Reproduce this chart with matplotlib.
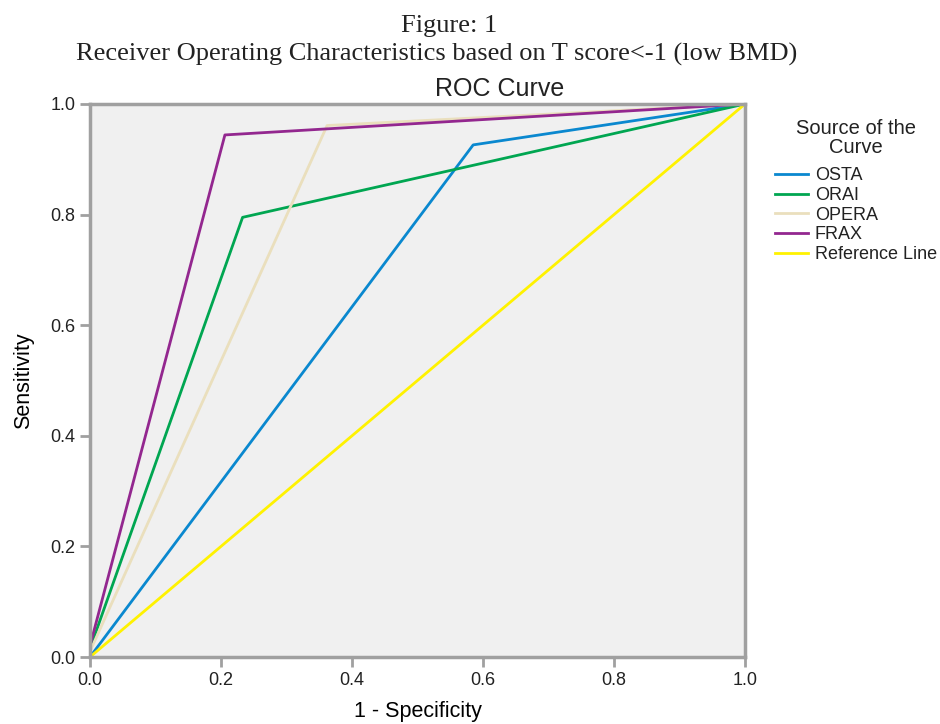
import matplotlib
matplotlib.use("Agg")
import matplotlib.pyplot as plt

# ROC points (1 - specificity, sensitivity)
osta_x = [0.0, 0.585, 1.0]
osta_y = [0.0, 0.926, 1.0]
orai_x = [0.0, 0.233, 1.0]
orai_y = [0.015, 0.795, 1.0]
opera_x = [0.0, 0.362, 1.0]
opera_y = [0.01, 0.961, 1.0]
frax_x = [0.0, 0.206, 1.0]
frax_y = [0.02, 0.944, 1.0]
ref_x = [0.0, 1.0]
ref_y = [0.0, 1.0]

ticks = [0.0, 0.2, 0.4, 0.6, 0.8, 1.0]

fig = plt.figure(figsize=(9.4, 7.24), dpi=100)
ax = fig.add_axes([0.0957, 0.0925, 0.6969, 0.7639])
ax.set_facecolor("#f0f0f0")

ax.plot(osta_x, osta_y, color="#0a88cf", lw=2, label="OSTA")
ax.plot(orai_x, orai_y, color="#00a651", lw=2, label="ORAI")
ax.plot(opera_x, opera_y, color="#eadfbd", lw=2, label="OPERA")
ax.plot(frax_x, frax_y, color="#93278f", lw=2, label="FRAX")
ax.plot(ref_x, ref_y, color="#fff200", lw=2, label="Reference Line")

ax.set_xlim(0, 1)
ax.set_ylim(0, 1)
ax.set_xticks(ticks)
ax.set_yticks(ticks)
ax.set_xticklabels([f"{t:.1f}" for t in ticks])
ax.set_yticklabels([f"{t:.1f}" for t in ticks])

for s in ax.spines.values():
    s.set_color("#a0a0a0")
    s.set_linewidth(2.5)
ax.tick_params(direction="out", length=7, width=2, color="#a0a0a0",
               labelsize=13, labelcolor="#222222")
for lab in ax.get_xticklabels() + ax.get_yticklabels():
    lab.set_family("Liberation Sans")

ax.set_xlabel("1 - Specificity", fontsize=15.5, family="Liberation Sans", labelpad=9)
ax.set_ylabel("Sensitivity", fontsize=15.5, family="Liberation Sans", labelpad=12)
fig.text(0.531, 0.868, "ROC Curve", ha="center", fontsize=18,
         family="Liberation Sans", color="#222222")

fig.text(0.478, 0.956, "Figure: 1", ha="center", fontsize=19,
         family="Liberation Serif", color="#222222")
fig.text(0.465, 0.916, "Receiver Operating Characteristics based on T score<-1 (low BMD)",
         ha="center", fontsize=19, family="Liberation Serif", color="#222222")

leg = ax.legend(loc="upper left", bbox_to_anchor=(1.035, 0.985), frameon=False,
                title="Source of the\nCurve", handlelength=1.8, handletextpad=0.4,
                labelspacing=0.15, borderaxespad=0,
                prop={"family": "Liberation Sans", "size": 13})
t = leg.get_title()
t.set_fontsize(14.5)
t.set_family("Liberation Sans")
t.set_multialignment("center")
t.set_linespacing(1.0)
leg.set_alignment("center")
leg._legend_box.sep = 7
for txt in leg.get_texts():
    txt.set_color("#222222")
t.set_color("#222222")

fig.savefig("out.png", dpi=100)
